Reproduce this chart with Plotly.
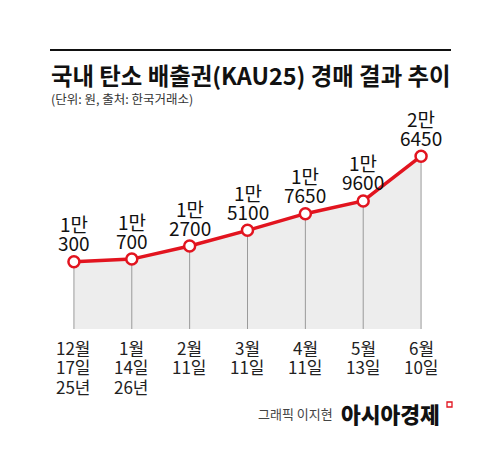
import plotly.graph_objects as go

# ---- data ----
months = ["12월", "1월", "2월", "3월", "4월", "5월", "6월"]
days = ["17일", "14일", "11일", "11일", "11일", "13일", "10일"]
years = ["25년", "26년", "", "", "", "", ""]
prices = [10300, 10700, 12700, 15100, 17650, 19600, 26450]

title = "국내 탄소 배출권(KAU25) 경매 결과 추이"
subtitle = "(단위: 원, 출처: 한국거래소)"
credit_name = "그래픽 이지현"
credit_brand = "아시아경제"

# ---- layout geometry ----
W, H = 500, 471
L, R, T, B = 45, 50, 133, 142
PW, PH = W - L - R, H - T - B

def px(xp):
    return (xp - L) / PW

def py(yp):
    return 1 - (yp - T) / PH

FONT = "Noto Sans CJK KR, Noto Sans, sans-serif"
RED = "#e2141f"

xs = list(range(len(prices)))

fig = go.Figure()

# grey area
fig.add_trace(go.Scatter(
    x=xs, y=prices, mode="lines", fill="tozeroy",
    fillcolor="#ededed", line=dict(width=0), hoverinfo="skip", showlegend=False))

# vertical drop lines
vx, vy = [], []
for x, v in zip(xs, prices):
    vx += [x, x, None]
    vy += [0, v, None]
fig.add_trace(go.Scatter(
    x=vx, y=vy, mode="lines", line=dict(color="#9a9a9a", width=1),
    hoverinfo="skip", showlegend=False))

# red line with markers
fig.add_trace(go.Scatter(
    x=xs, y=prices, mode="lines+markers",
    line=dict(color=RED, width=3.5),
    marker=dict(symbol="circle", size=11, color="white",
                line=dict(color=RED, width=2.5)),
    hoverinfo="skip", showlegend=False))

annotations = []
# value labels
for x, v in zip(xs, prices):
    man, rest = divmod(v, 10000)
    annotations.append(dict(x=x, y=v, xref="x", yref="y", text=f"{man}만",
                            showarrow=False, yanchor="middle", yshift=38,
                            font=dict(family=FONT, size=19, color="#111")))
    annotations.append(dict(x=x, y=v, xref="x", yref="y", text=f"{rest}",
                            showarrow=False, yanchor="middle", yshift=19,
                            font=dict(family=FONT, size=19, color="#111")))

# category labels
for x, m, d, yr in zip(xs, months, days, years):
    for i, t in enumerate([m, d, yr]):
        if not t:
            continue
        annotations.append(dict(x=x, y=0, xref="x", yref="y", text=t,
                                showarrow=False, yanchor="middle",
                                yshift=-18 - 19.5 * i,
                                font=dict(family=FONT, size=17, color="#222")))

# title / subtitle / credits
annotations.append(dict(x=px(49), y=py(75), xref="paper", yref="paper",
                        text=f"<b>{title}</b>", showarrow=False,
                        xanchor="left", yanchor="middle",
                        font=dict(family=FONT, size=23.4, color="#111")))
annotations.append(dict(x=px(49), y=py(98), xref="paper", yref="paper",
                        text=subtitle, showarrow=False,
                        xanchor="left", yanchor="middle",
                        font=dict(family=FONT, size=12.5, color="#333")))
annotations.append(dict(x=px(335), y=py(413), xref="paper", yref="paper",
                        text=credit_name, showarrow=False,
                        xanchor="right", yanchor="middle",
                        font=dict(family=FONT, size=13, color="#444")))
annotations.append(dict(x=px(339), y=py(413), xref="paper", yref="paper",
                        text=credit_brand, showarrow=False,
                        xanchor="left", yanchor="middle",
                        font=dict(family=FONT, size=21.5, color="#111", weight=900)))

shapes = [
    dict(type="line", xref="paper", yref="paper",
         x0=px(50), x1=px(451), y0=py(50), y1=py(50),
         line=dict(color="#111", width=2)),
    dict(type="rect", xref="paper", yref="paper",
         x0=px(447), x1=px(452), y0=py(407), y1=py(402),
         line=dict(color=RED, width=1.3), fillcolor="white"),
]

fig.update_layout(
    width=W, height=H,
    margin=dict(l=L, r=R, t=T, b=B),
    paper_bgcolor="white", plot_bgcolor="white",
    xaxis=dict(range=[-0.5, len(prices) - 0.5], visible=False, fixedrange=True),
    yaxis=dict(range=[0, 30000], visible=False, fixedrange=True),
    annotations=annotations, shapes=shapes,
    showlegend=False,
)

fig.write_html("out.html", config={"displayModeBar": False})
